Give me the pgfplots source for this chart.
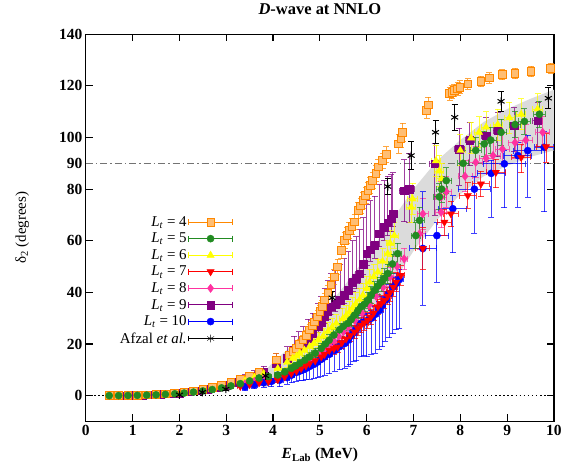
\documentclass[border=0pt]{standalone}
\usepackage{fontspec}
\setmainfont{Liberation Serif}
\usepackage{pgfplots}
\pgfplotsset{compat=1.18}
\usepackage{pgfplotstable}
\usetikzlibrary{arrows.meta}

\definecolor{ltfour}{RGB}{255,136,0}
\definecolor{ltfive}{RGB}{34,139,34}
\definecolor{ltsix}{RGB}{255,255,0}
\definecolor{ltseven}{RGB}{255,0,0}
\definecolor{lteight}{RGB}{255,50,160}
\definecolor{ltnine}{RGB}{128,0,128}
\definecolor{ltten}{RGB}{0,0,255}

% columns: E_lab, delta_2, x error, y error plus, y error minus
\pgfplotstableread{
E d xe yp ym
0.5 0.01 0.03 0.2 0.2
0.7 0.03 0.03 0.2 0.2
0.9 0.08 0.03 0.2 0.2
1.1 0.15 0.03 0.3 0.3
1.3 0.27 0.04 0.3 0.3
1.5 0.43 0.04 0.3 0.3
1.7 0.66 0.04 0.4 0.4
1.9 0.96 0.04 0.4 0.4
2.1 1.35 0.05 0.5 0.5
2.3 1.83 0.05 0.5 0.5
2.5 2.43 0.05 0.6 0.6
2.7 3.15 0.05 0.7 0.7
2.9 4.0 0.06 0.8 0.8
3.1 5.0 0.06 0.9 0.9
3.3 6.2 0.06 1.0 1.0
3.5 7.6 0.07 1.1 1.1
3.7 9.1 0.07 1.3 1.3
4.07 13.8 0.08 2.5 2.5
4.35 15.7 0.06 1.5 1.5
4.43 17.2 0.06 1.6 1.6
4.50 18.3 0.06 1.7 1.7
4.57 19.8 0.06 1.8 1.8
4.64 21.5 0.06 1.9 1.9
4.71 23.3 0.06 2.0 2.0
4.78 25.4 0.07 2.1 2.1
4.84 27.0 0.07 2.2 2.2
4.89 28.6 0.07 2.3 2.3
4.95 30.5 0.07 2.4 2.4
5.00 32.5 0.07 2.5 2.5
5.05 34.5 0.07 2.5 2.5
5.10 37.0 0.07 2.6 2.6
5.17 39.8 0.07 2.7 2.7
5.24 42.8 0.08 2.8 2.8
5.31 46.0 0.08 2.9 2.9
5.38 49.8 0.08 3.0 3.0
5.46 56.3 0.08 3.0 3.0
5.53 60.1 0.08 3.0 3.0
5.58 62.0 0.08 3.0 3.0
5.63 64.0 0.08 3.0 3.0
5.69 65.5 0.08 3.0 3.0
5.74 67.2 0.08 3.0 3.0
5.82 71.7 0.08 3.0 3.0
5.87 73.5 0.08 3.0 3.0
5.92 75.6 0.08 3.0 3.0
5.98 77.5 0.08 3.0 3.0
6.03 79.4 0.08 3.0 3.0
6.08 81.5 0.08 3.0 3.0
6.13 83.3 0.08 3.0 3.0
6.20 86.0 0.08 3.0 3.0
6.25 88.6 0.08 3.0 3.0
6.34 91.0 0.08 3.0 3.0
6.42 93.5 0.08 3.0 3.0
6.68 97.5 0.08 3.5 3.5
6.73 99.5 0.08 3.5 3.5
6.77 102.0 0.08 3.5 3.5
7.28 110.5 0.08 3.0 3.0
7.32 112.5 0.08 3.0 3.0
7.77 117.0 0.08 2.5 2.5
7.82 117.5 0.08 2.5 2.5
7.87 118.2 0.08 2.5 2.5
7.94 118.8 0.08 2.5 2.5
7.99 119.4 0.08 2.5 2.5
8.16 120.7 0.08 2.0 2.0
8.44 121.7 0.08 2.0 2.0
8.62 123.0 0.08 2.0 2.0
8.90 124.3 0.08 2.0 2.0
9.17 124.8 0.08 2.0 2.0
9.51 125.5 0.08 2.0 2.0
9.93 126.8 0.08 2.0 2.0
}\ltfourdata

\pgfplotstableread{
E d xe yp ym
0.5 0.01 0.03 0.2 0.2
0.7 0.02 0.03 0.2 0.2
0.9 0.06 0.03 0.2 0.2
1.1 0.11 0.03 0.2 0.2
1.3 0.20 0.04 0.3 0.3
1.5 0.32 0.04 0.3 0.3
1.7 0.50 0.04 0.3 0.3
1.9 0.72 0.04 0.3 0.3
2.1 1.00 0.05 0.4 0.4
2.3 1.37 0.05 0.4 0.4
2.5 1.82 0.05 0.5 0.5
2.7 2.36 0.05 0.5 0.5
2.9 3.00 0.06 0.6 0.6
3.1 3.77 0.06 0.6 0.6
3.3 4.65 0.06 0.7 0.7
3.5 5.70 0.07 0.8 0.8
3.7 6.85 0.07 0.9 0.9
3.9 7.40 0.07 1.0 1.0
4.10 8.0 0.08 1.1 1.1
4.25 9.2 0.06 1.2 1.2
4.39 10.6 0.06 1.3 1.3
4.48 11.5 0.06 1.4 1.4
4.57 12.5 0.06 1.5 1.5
4.68 13.8 0.06 1.6 1.6
4.78 15.0 0.07 1.7 1.7
4.90 16.5 0.07 1.8 1.8
5.03 18.3 0.07 2.0 2.0
5.12 20.0 0.07 2.1 2.1
5.20 21.5 0.07 2.2 2.2
5.30 23.5 0.07 2.3 2.3
5.42 25.5 0.08 2.4 2.4
5.50 26.8 0.08 2.5 2.5
5.60 28.0 0.08 2.6 2.6
5.67 29.5 0.08 2.7 2.7
5.74 31.2 0.08 2.8 2.8
5.81 32.8 0.08 2.9 2.9
5.88 34.4 0.08 3.0 3.0
5.96 35.5 0.08 3.0 3.0
6.03 37.0 0.08 3.1 3.1
6.10 39.0 0.08 3.2 3.2
6.17 40.8 0.08 3.3 3.3
6.24 42.5 0.08 3.4 3.4
6.31 44.0 0.08 3.5 3.5
6.38 45.5 0.08 3.6 3.6
6.45 47.3 0.08 3.7 3.7
6.55 51.0 0.08 3.8 3.8
6.66 55.0 0.08 4.0 4.0
7.05 62.0 0.10 5 5
7.13 67.9 0.10 5 5
7.55 77.0 0.12 5 5
7.60 80.0 0.12 5 5
7.70 83.3 0.12 5 5
8.06 90.0 0.12 5 5
8.33 95.0 0.12 5 5
8.51 97.5 0.12 5 5
8.65 99.0 0.12 5 5
8.87 102.0 0.12 5 5
9.17 105.0 0.12 5 5
9.37 106.2 0.12 5 5
9.69 109.0 0.12 5 5
}\ltfivedata

\pgfplotstableread{
E d xe yp ym
3.4 5.8 0.06 0.8 0.8
3.6 7.1 0.07 1.0 1.0
3.8 8.5 0.07 1.2 1.2
4.10 10.5 0.08 2.0 2.0
4.30 13.0 0.06 2.0 2.0
4.42 14.5 0.06 2.2 2.2
4.50 15.3 0.06 2.3 2.3
4.57 16.4 0.06 2.5 2.5
4.67 17.6 0.06 2.6 2.6
4.78 19.0 0.07 2.8 2.8
4.87 20.2 0.07 3.0 3.0
4.96 21.5 0.07 3.0 3.0
5.07 23.0 0.07 3.2 3.2
5.17 24.8 0.07 3.4 3.4
5.26 26.5 0.07 3.5 3.5
5.35 28.0 0.08 3.6 3.6
5.49 29.8 0.08 3.8 3.8
5.56 31.0 0.08 4.0 4.0
5.63 32.4 0.08 4.0 4.0
5.70 34.0 0.08 4.2 4.2
5.77 35.6 0.08 4.3 4.3
5.85 37.2 0.08 4.5 4.5
5.92 38.9 0.08 4.6 4.6
6.00 41.5 0.08 4.8 4.8
6.06 44.0 0.08 5.0 5.0
6.15 46.0 0.08 5.0 5.0
6.24 47.9 0.08 5.0 5.0
6.34 52.0 0.08 5.0 5.0
6.45 55.0 0.08 5.0 5.0
6.50 59.0 0.08 5.0 5.0
6.59 62.0 0.08 5.0 5.0
6.95 73.0 0.10 6 6
6.98 76.2 0.10 6 6
7.48 91.0 0.10 6 6
7.55 87.0 0.10 6 6
7.60 84.0 0.10 6 6
8.00 95.0 0.10 6 6
8.23 99.8 0.10 6 6
8.40 102.0 0.10 6 6
8.55 104.0 0.10 6 6
8.80 105.0 0.10 6 6
9.05 107.6 0.10 6 6
9.30 109.0 0.10 6 6
9.65 111.0 0.10 6 6
}\ltsixdata

\pgfplotstableread{
E d xe yp ym
3.3 3.6 0.06 0.6 0.6
3.5 4.3 0.06 0.7 0.7
3.7 5.0 0.07 0.8 0.8
3.9 5.5 0.07 0.9 0.9
4.10 6.2 0.08 1.0 1.0
4.25 7.3 0.06 1.0 1.0
4.39 8.6 0.06 1.2 1.2
4.50 9.5 0.06 1.3 1.3
4.60 10.5 0.06 1.4 1.4
4.70 11.5 0.06 1.5 1.5
4.78 12.5 0.07 1.6 1.6
4.90 13.5 0.07 1.7 1.7
5.03 15.0 0.07 1.8 1.8
5.10 16.0 0.07 1.9 1.9
5.20 17.5 0.07 2.0 2.0
5.30 18.2 0.07 2.1 2.1
5.38 18.9 0.08 2.2 2.2
5.47 20.5 0.08 2.3 2.3
5.56 22.0 0.08 2.4 2.4
5.65 23.3 0.08 2.5 2.5
5.74 24.7 0.08 2.6 2.6
5.81 26.0 0.08 2.7 2.7
5.88 27.3 0.08 2.8 2.8
5.95 28.2 0.08 2.9 2.9
6.02 29.2 0.08 3.0 3.0
6.09 30.5 0.08 3.0 3.0
6.15 32.0 0.08 3.0 3.0
6.24 34.4 0.08 3.0 3.0
6.31 35.7 0.08 3.0 3.0
6.38 37.0 0.08 3.2 3.2
6.45 38.5 0.08 3.3 3.3
6.50 40.0 0.08 3.4 3.4
6.57 42.0 0.08 3.5 3.5
6.63 44.0 0.08 3.6 3.6
6.73 46.6 0.08 3.8 3.8
7.20 57.0 0.15 8 8
7.66 67.2 0.15 5 5
7.80 70.4 0.15 5 5
8.16 77.5 0.18 5 5
8.44 82.0 0.18 5 5
8.76 86.5 0.20 5 6
9.30 92.3 0.20 5 6
9.83 96.4 0.20 5 6
}\ltsevendata

\pgfplotstableread{
E d xe yp ym
3.4 4.6 0.06 0.7 0.7
3.6 5.5 0.06 0.8 0.8
3.8 6.5 0.07 0.9 0.9
4.10 7.8 0.08 1.0 1.0
4.40 9.8 0.06 1.2 1.2
4.60 11.5 0.06 1.4 1.4
4.80 13.8 0.07 1.6 1.6
5.00 16.5 0.07 1.8 1.8
5.10 18.0 0.07 2.0 2.0
5.20 19.5 0.07 2.1 2.1
5.30 21.2 0.07 2.2 2.2
5.40 23.0 0.08 2.4 2.4
5.50 24.8 0.08 2.5 2.5
5.60 26.5 0.08 2.6 2.6
5.75 29.0 0.08 2.8 2.8
5.90 32.0 0.08 3.0 3.0
6.05 35.0 0.08 3.2 3.2
6.20 38.5 0.08 3.4 3.4
6.35 42.0 0.08 3.6 3.6
6.50 46.0 0.08 3.8 3.8
6.65 50.0 0.08 4.0 4.0
6.80 53.0 0.08 4.2 4.2
7.13 62.7 0.12 6 6
7.20 70.4 0.12 6 6
7.59 71.0 0.12 6 6
7.59 76.9 0.12 6 6
7.70 79.0 0.12 6 6
8.10 85.0 0.15 6 6
8.33 90.4 0.15 6 6
8.55 92.0 0.15 6 6
8.70 93.0 0.15 6 6
8.90 95.5 0.15 6 6
9.17 98.0 0.15 6 6
9.40 99.0 0.15 6 6
9.76 102.0 0.15 6 6
}\lteightdata

\pgfplotstableread{
E d xe yp ym
0.6 0.02 0.03 0.3 0.2
0.8 0.05 0.03 0.3 0.2
1.0 0.10 0.03 0.3 0.2
1.2 0.18 0.03 0.4 0.2
1.4 0.31 0.04 0.4 0.2
1.6 0.50 0.04 0.5 0.3
1.8 0.74 0.04 0.6 0.3
2.0 1.06 0.04 0.7 0.3
2.2 1.45 0.05 0.8 0.4
2.4 1.95 0.05 0.9 0.4
2.6 2.55 0.05 1.0 0.5
2.8 3.3 0.05 1.2 0.5
3.0 4.1 0.06 1.4 0.6
3.2 5.2 0.06 1.6 0.6
3.4 6.3 0.06 1.8 0.7
3.6 7.6 0.07 2.0 0.8
3.8 9.2 0.07 2.3 0.9
4.07 12.5 0.08 4.0 1.5
4.30 14.5 0.06 4.5 1.5
4.45 17.5 0.06 5.5 1.8
4.55 18.8 0.06 6.0 1.8
4.64 20.2 0.06 6.5 2.0
4.75 22.0 0.06 7.5 2.0
4.85 24.0 0.07 8.0 2.2
4.96 26.7 0.07 9.0 2.4
5.03 28.5 0.07 10 2.5
5.10 30.5 0.07 11 2.7
5.17 32.5 0.07 12 2.8
5.24 34.4 0.07 13 3.0
5.33 35.5 0.07 13 3.0
5.43 37.0 0.08 14 3.2
5.52 39.0 0.08 14 3.4
5.60 40.8 0.08 15 3.5
5.70 44.0 0.08 16 3.8
5.78 45.5 0.08 16 4.0
5.85 47.3 0.08 17 4.0
5.93 51.0 0.08 18 4.2
6.00 55.0 0.08 19 4.5
6.08 56.5 0.08 19 4.5
6.17 58.2 0.08 19 5.0
6.27 62.7 0.08 19 5.0
6.38 65.3 0.08 18 5.0
6.45 67.0 0.08 18 5.0
6.52 68.5 0.08 17 5.0
6.56 70.4 0.08 16 5.0
6.80 79.4 0.10 12 12
6.91 80.0 0.10 14 13
7.45 89.8 0.10 8 20
7.98 95.5 0.10 8 14
8.20 99.0 0.10 7 10
8.55 100.7 0.10 7 10
8.80 102.6 0.10 7 10
9.15 104.6 0.10 7 10
9.65 106.5 0.10 7 10
}\ltninedata

\pgfplotstableread{
E d xe yp ym
3.4 3.4 0.06 0.6 1.2
3.6 4.2 0.06 0.7 1.5
3.8 5.0 0.07 0.8 1.8
3.96 5.5 0.07 1.0 2.0
4.14 6.0 0.08 1.0 2.5
4.30 7.0 0.06 1.2 2.5
4.40 8.0 0.06 1.2 3.0
4.50 9.0 0.06 1.3 3.5
4.57 9.5 0.06 1.4 3.8
4.64 10.0 0.06 1.5 4.2
4.71 10.6 0.06 1.5 4.5
4.78 11.3 0.07 1.6 5.0
4.87 12.1 0.07 1.7 5.5
4.95 13.0 0.07 1.8 6.0
5.02 14.0 0.07 1.9 6.5
5.10 15.0 0.07 2.0 7.0
5.20 16.0 0.07 2.1 7.5
5.32 17.5 0.08 2.2 8.0
5.42 19.0 0.08 2.4 9.0
5.53 20.2 0.08 2.5 9.5
5.60 21.5 0.08 2.6 10
5.65 23.0 0.08 2.7 11
5.72 24.3 0.08 2.8 11
5.78 25.6 0.08 3.0 12
5.88 28.0 0.08 3.0 13
5.94 28.5 0.08 3.0 13
6.00 29.0 0.08 3.0 14
6.10 30.0 0.08 3.0 14
6.18 31.5 0.08 3.2 15
6.27 33.0 0.08 3.3 15
6.33 35.0 0.08 3.4 16
6.40 37.0 0.08 3.5 16
6.48 39.5 0.08 3.6 17
6.56 42.0 0.08 3.8 18
6.63 43.5 0.08 4.0 18
6.70 45.0 0.08 4.0 19
7.20 57.0 0.28 22 22
7.50 62.0 0.25 5 18
7.84 72.4 0.30 5 17
8.30 80.0 0.34 5 17
8.66 86.1 0.30 5 17
8.94 89.8 0.45 5 17
9.23 93.0 0.30 5 20
9.44 94.9 0.30 6 18
9.79 96.2 0.20 6 25
}\lttendata

\pgfplotstableread{
E d yp ym
2.00 0.3 0.3 0.3
2.49 1.3 0.4 0.4
2.99 2.5 0.6 0.6
3.84 7.7 1.2 1.2
5.26 37.9 2.5 2.5
6.45 81.0 3.0 3.0
6.95 93.0 5.5 5.5
7.47 102.0 4.5 4.5
7.88 107.8 5.0 5.0
8.87 114.0 4.0 4.0
9.88 115.2 4.0 4.0
}\afzaldata

\pgfplotsset{
  ebar/.style={
    /pgfplots/error bars/x dir=both,
    /pgfplots/error bars/x explicit,
    /pgfplots/error bars/y dir=both,
    /pgfplots/error bars/y explicit,
    /pgfplots/error bars/error bar style={line width=0.9pt, opacity=0.75},
    /pgfplots/error bars/error mark options={rotate=90, mark size=3pt, line width=0.9pt, opacity=0.75},
  },
}

\begin{document}
\begin{tikzpicture}[font=\fontsize{15}{17}\selectfont]
\begin{axis}[
  scale only axis,
  width=469pt, height=388pt,
  xmin=0, xmax=10, ymin=-10, ymax=140,
  xtick={0,1,...,10},
  ytick={0,20,40,60,80,90,100,120,140},
  tick align=inside,
  xtick pos=both, ytick pos=both,
  major tick length=7pt,
  axis line style={line width=1.3pt},
  every tick/.style={black, line width=1.2pt},
  ticklabel style={font=\fontsize{15.5}{17}\selectfont\bfseries},
  /pgf/number format/assume math mode=true,
  title={\textbf{\textit{D}-wave at NNLO}},
  title style={at={(axis description cs:0.5,1.05)}, anchor=center, font=\fontsize{16.5}{19}\selectfont},
  xlabel={\textbf{\textit{E}\textsubscript{Lab} (MeV)}},
  xlabel style={at={(axis description cs:0.5,-0.087)}, anchor=center, font=\fontsize{15.5}{18}\selectfont},
  ylabel={δ\textsubscript{2} (degrees)},
  ylabel style={at={(axis description cs:-0.136,0.5)}, anchor=center},
  legend plot pos=right,
  legend cell align=right,
  legend style={at={(0.318,0.535)}, anchor=north east, draw=none, fill=none,
    font=\fontsize{15}{17}\selectfont, row sep=3.2pt, inner sep=1pt,
    nodes={inner sep=1pt}},
  legend image code/.code={
    \draw[#1, mark=none, line width=0.9pt, {Bar[width=6pt]}-{Bar[width=6pt]}] (0pt,0pt) -- (45pt,0pt);
    \draw[#1] plot coordinates {(22.5pt,0pt)};
  },
]
% theory band
\addplot[forget plot, draw=none, fill=black!14] coordinates {
  (3.8,9) (4.0,13) (4.5,21) (5.0,31) (5.5,42) (6.0,54) (6.5,67) (7.0,80)
  (7.5,91) (8.0,99) (8.5,106) (9.0,111) (9.5,115) (10.0,118.5)
  (10.0,95) (9.5,92.5) (9.0,89) (8.5,85) (8.0,78) (7.5,68) (7.0,56)
  (6.5,42) (6.0,31) (5.5,22) (5.0,15) (4.5,9) (4.0,4.5) (3.8,3)
};
\addplot[forget plot, black!55, line width=0.7pt, dash pattern=on 7pt off 3pt on 1.5pt off 3pt] coordinates {(0,90) (10,90)};
\addplot[forget plot, black, line width=1.5pt, dash pattern=on 1.5pt off 2.6pt] coordinates {(0,0) (10,0)};

\addplot[forget plot, only marks, color=ltnine, mark=square*, mark size=3.8pt, ebar]
  table[x=E, y=d, x error=xe, y error plus=yp, y error minus=ym] {\ltninedata};
\addplot[forget plot, only marks, color=ltfour, mark=square*, mark size=3.8pt,
  mark options={fill=ltfour!55, line width=1pt}, ebar]
  table[x=E, y=d, x error=xe, y error plus=yp, y error minus=ym] {\ltfourdata};
\addplot[forget plot, only marks, color=ltsix, mark=triangle*, mark size=4.2pt, ebar]
  table[x=E, y=d, x error=xe, y error plus=yp, y error minus=ym] {\ltsixdata};
\addplot[forget plot, only marks, color=lteight, mark=diamond*, mark size=4.2pt, ebar]
  table[x=E, y=d, x error=xe, y error plus=yp, y error minus=ym] {\lteightdata};
\addplot[forget plot, only marks, color=ltten, mark=*, mark size=3.6pt, ebar]
  table[x=E, y=d, x error=xe, y error plus=yp, y error minus=ym] {\lttendata};
\addplot[forget plot, only marks, color=ltseven, mark=triangle*, mark size=4.2pt,
  mark options={rotate=180}, ebar]
  table[x=E, y=d, x error=xe, y error plus=yp, y error minus=ym] {\ltsevendata};
\addplot[forget plot, only marks, color=ltfive, mark=*, mark size=3.6pt, ebar]
  table[x=E, y=d, x error=xe, y error plus=yp, y error minus=ym] {\ltfivedata};
\addplot[forget plot, only marks, color=black, mark=asterisk, mark size=4pt, line width=1pt,
  error bars/.cd, y dir=both, y explicit,
  error bar style={line width=0.9pt},
  error mark options={rotate=90, mark size=3pt, line width=0.9pt}]
  table[x=E, y=d, y error plus=yp, y error minus=ym] {\afzaldata};

\addlegendimage{only marks, color=ltfour, mark=square*, mark size=3.8pt, mark options={fill=ltfour!55}}
\addlegendimage{only marks, color=ltfive, mark=*, mark size=3.6pt}
\addlegendimage{only marks, color=ltsix, mark=triangle*, mark size=4.2pt}
\addlegendimage{only marks, color=ltseven, mark=triangle*, mark size=4.2pt, mark options={rotate=180}}
\addlegendimage{only marks, color=lteight, mark=diamond*, mark size=4.2pt}
\addlegendimage{only marks, color=ltnine, mark=square*, mark size=3.8pt}
\addlegendimage{only marks, color=ltten, mark=*, mark size=3.6pt}
\addlegendimage{only marks, color=black, mark=asterisk, mark size=4pt}
\legend{
  {\textit{L}\textsubscript{\textit{t}} = 4},
  {\textit{L}\textsubscript{\textit{t}} = 5},
  {\textit{L}\textsubscript{\textit{t}} = 6},
  {\textit{L}\textsubscript{\textit{t}} = 7},
  {\textit{L}\textsubscript{\textit{t}} = 8},
  {\textit{L}\textsubscript{\textit{t}} = 9},
  {\textit{L}\textsubscript{\textit{t}} = 10},
  {Afzal \textit{et al.}}
}
\end{axis}
\path ([shift={(-86pt,-52pt)}]current axis.south west) rectangle ([shift={(10pt,33pt)}]current axis.north east);
\end{tikzpicture}
\end{document}
